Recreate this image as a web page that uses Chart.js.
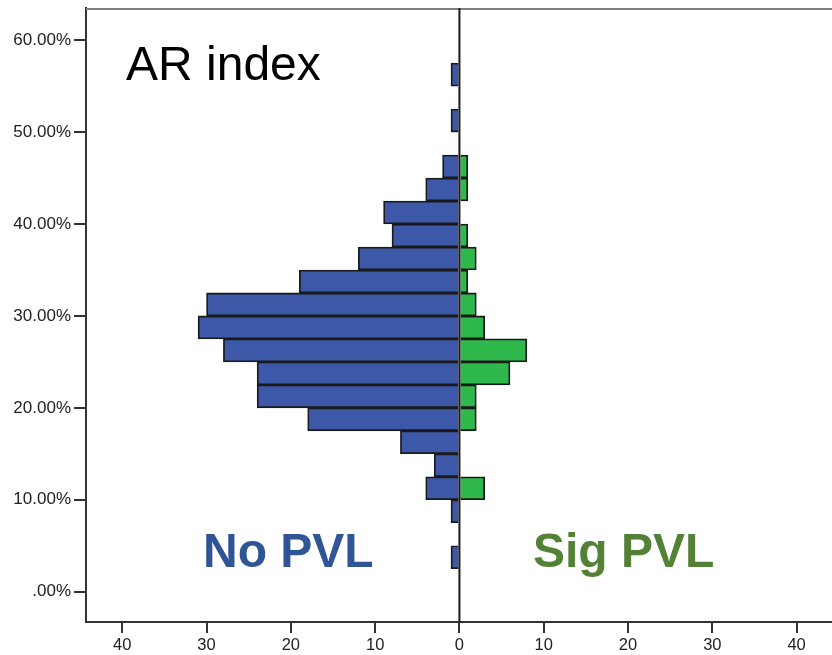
<!DOCTYPE html>
<html>
<head>
<meta charset="utf-8">
<script src="https://cdn.jsdelivr.net/npm/chart.js@4"></script>
<style>
  html, body { margin: 0; padding: 0; background: #fff; }
  #wrap { width: 832px; height: 655px; position: relative; }
</style>
</head>
<body>
<div id="wrap"><canvas id="chartPvl"></canvas></div>
<script>
// bin centres (AR index, %), 2.5% wide bins from 0 to 60
const binCenters = [1.25, 3.75, 6.25, 8.75, 11.25, 13.75, 16.25, 18.75, 21.25, 23.75,
    26.25, 28.75, 31.25, 33.75, 36.25, 38.75, 41.25, 43.75, 46.25, 48.75,
    51.25, 53.75, 56.25, 58.75];
const noPvlCounts = [0, 1, 0, 1, 4, 3, 7, 18, 24, 24, 28, 31, 30, 19, 12, 8, 9, 4, 2, 0, 1, 0, 1, 0];
const sigPvlCounts = [0, 0, 0, 0, 3, 0, 0, 2, 2, 6, 8, 3, 2, 1, 2, 1, 0, 1, 1, 0, 0, 0, 0, 0];
const yTickValues = [0, 10, 20, 30, 40, 50, 60];
const xTickValues = [-40, -30, -20, -10, 0, 10, 20, 30, 40];

const FONT = "'Liberation Sans', Arial, sans-serif";

// left side goes negative, empty bins are left out
const noPvlData = binCenters.map((y, i) => noPvlCounts[i] ? { x: -noPvlCounts[i], y: y } : null).filter(Boolean);
const sigPvlData = binCenters.map((y, i) => sigPvlCounts[i] ? { x: sigPvlCounts[i], y: y } : null).filter(Boolean);

const frameAndLabels = {
    id: 'frameAndLabels',
    afterDatasetsDraw(chart) {
        const ctx = chart.ctx;
        const area = chart.chartArea;
        const x0 = chart.scales.x.getPixelForValue(0);
        ctx.save();
        // top frame line
        ctx.strokeStyle = '#808080';
        ctx.lineWidth = 2;
        ctx.beginPath();
        ctx.moveTo(area.left, area.top + 1);
        ctx.lineTo(area.right, area.top + 1);
        ctx.stroke();
        // zero line
        ctx.strokeStyle = '#1a1a1a';
        ctx.lineWidth = 2;
        ctx.beginPath();
        ctx.moveTo(x0, area.top);
        ctx.lineTo(x0, area.bottom);
        ctx.stroke();
        // annotations
        ctx.textBaseline = 'alphabetic';
        ctx.textAlign = 'left';
        ctx.fillStyle = '#000';
        ctx.font = '48px ' + FONT;
        ctx.fillText('AR index', 126, 80);
        ctx.font = 'bold 48px ' + FONT;
        ctx.fillStyle = '#2F5597';
        ctx.fillText('No PVL', 203, 567);
        ctx.fillStyle = '#538135';
        ctx.fillText('Sig PVL', 533, 567);
        ctx.restore();
    }
};

new Chart(document.getElementById('chartPvl').getContext('2d'), {
    type: 'bar',
    data: {
        datasets: [{
            label: 'No PVL',
            data: noPvlData,
            backgroundColor: '#3D58A8',
            borderColor: '#1a1a1a',
            borderWidth: 1.8,
            grouped: false,
            barPercentage: 1,
            categoryPercentage: 1
        }, {
            label: 'Sig PVL',
            data: sigPvlData,
            backgroundColor: '#2FB84C',
            borderColor: '#1a1a1a',
            borderWidth: 1.8,
            grouped: false,
            barPercentage: 1,
            categoryPercentage: 1
        }]
    },
    options: {
        indexAxis: 'y',
        responsive: true,
        maintainAspectRatio: false,
        animation: false,
        layout: { padding: { top: 8, right: 0, bottom: 0, left: 0 } },
        plugins: {
            legend: { display: false },
            tooltip: { enabled: false }
        },
        scales: {
            x: {
                type: 'linear',
                min: -44.3,
                max: 44.2,
                offset: false,
                afterFit: (scale) => {
                    scale.height = 33;
                    scale.paddingLeft = 0;
                    scale.paddingRight = 0;
                },
                afterBuildTicks: (scale) => { scale.ticks = xTickValues.map(v => ({ value: v })); },
                grid: { drawOnChartArea: false, drawTicks: true, tickLength: 11, color: '#333', lineWidth: 2, offset: false },
                border: { display: true, color: '#333', width: 2 },
                ticks: {
                    color: '#222',
                    font: { family: FONT, size: 16.5 },
                    padding: 3,
                    maxRotation: 0,
                    callback: (v) => Math.abs(v)
                }
            },
            y: {
                type: 'linear',
                min: -3.3,
                max: 63.5,
                offset: false,
                afterFit: (scale) => {
                    scale.width = 86;
                    scale.paddingTop = 0;
                    scale.paddingBottom = 0;
                },
                afterBuildTicks: (scale) => { scale.ticks = yTickValues.map(v => ({ value: v })); },
                grid: { drawOnChartArea: false, drawTicks: true, tickLength: 12, color: '#333', lineWidth: 2, offset: false },
                border: { display: true, color: '#333', width: 2 },
                ticks: {
                    color: '#222',
                    font: { family: FONT, size: 17 },
                    padding: 3,
                    callback: (v) => v === 0 ? '.00%' : v.toFixed(2) + '%'
                }
            }
        }
    },
    plugins: [frameAndLabels]
});
</script>
</body>
</html>
